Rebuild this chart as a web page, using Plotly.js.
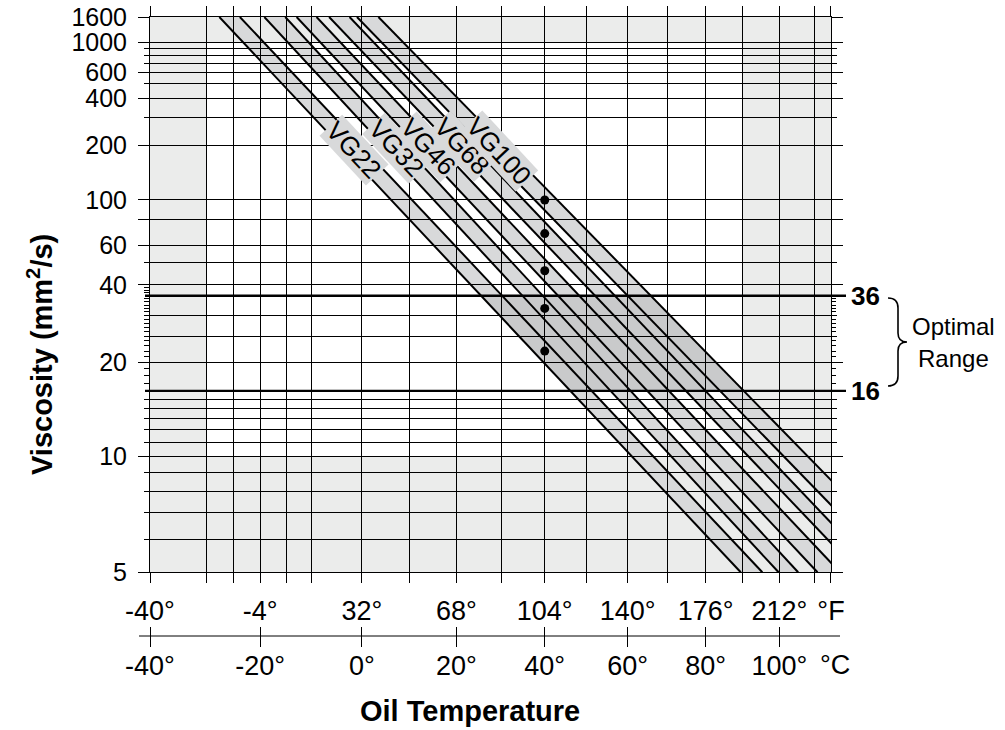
<!DOCTYPE html>
<html><head><meta charset="utf-8">
<script src="https://cdn.plot.ly/plotly-3.0.1.min.js"></script>
<style>html,body{margin:0;padding:0;background:#fff}#chart{width:1005px;height:730px}</style>
</head><body><div id="chart"></div>
<script>
// ---------------- data ----------------
const gradeNames = ['VG22', 'VG32', 'VG46', 'VG68', 'VG100'];
const gradeVisc40 = [22, 32, 46, 68, 100];          // dots at 40 °C
const dotTempC = [40, 40, 40, 40, 40];
// each grade band is bounded by two straight lines, given by the temperature (°C)
// where the line meets 1600 mm²/s (top) and 5 mm²/s (bottom)
const lowLineTopC    = [-27.6, -19.2, -13.0, -6.6, -1.0];
const lowLineBottomC = [89.4, 99.8, 110.8, 122.9, 134.1];
const highLineTopC    = [-23.8, -15.2, -9.1, -2.5, 3.4];
const highLineBottomC = [95.3, 105.3, 117.3, 128.6, 141.7];
const labelVisc = [190, 193, 197, 200, 185];
const viscTop = 1600, viscBottom = 5;
const optimalRange = [16, 36];
const tempMinC = -40, tempMaxC = 114.7;

const xGridC = [-40, -30, -25, -20, -15, -10, 0, 10, 20, 30, 40, 50, 60, 70, 80, 90, 100, 110, 114.69];
const fTickC = [-40, -20, 0, 20, 40, 60, 80, 100];
const fLabels = ['-40°', '-4°', '32°', '68°', '104°', '140°', '176°', '212°'];
const cTickC = [-40, -20, 0, 20, 40, 60, 80, 100];
const cLabels = ['-40°', '-20°', '0°', '20°', '40°', '60°', '80°', '100°'];
const yLabeled = [5, 10, 20, 40, 60, 100, 200, 400, 600, 1000, 1600];
const yLong = [80];
const yMinorGrid = [6, 7, 8, 9, 11, 12, 13, 14, 15, 25, 30, 50, 300, 500, 700, 800, 900];
const yFineLeft = [17, 18, 19, 21, 22, 23, 24, 26, 27, 28, 29, 31, 32, 33, 34, 35, 37, 38, 39];
const yFineRight = [17, 18, 19, 21, 22, 23, 24, 26, 27, 28, 29, 31, 32, 33, 34, 35];
const shadeTempC = [[-40, -30], [90, 114.7]];
const shadeVisc = [[5, 10], [1000, 1600]];

// ---------------- scales ----------------
const C = 0.9;
const gv = v => Math.log10(Math.log10(v + C));     // Walther-type viscosity scale
const uT = t => Math.log10(t + 273.15);            // log absolute temperature
const xr = [uT(tempMinC), uT(tempMaxC)];
const yr = [gv(viscBottom), gv(viscTop)];

const FONT = 'Liberation Sans, Arial, Helvetica, sans-serif';
const LIGHT = '#ebeceb', BAND = '#d8d9da', OPT = '#c9cacb';

// paper helpers (plot area 150..831 x, paper 17..700 y)
const ML = 150, MR = 174, MT = 17, MB = 30, W = 1005 - ML - MR, H = 730 - MT - MB;
const px = p => (p - ML) / W;
const py = p => (730 - MB - p) / H;
const yDomLow = py(572.3);

function lineU(top, bottom, v) {
  const f = (gv(v) - gv(viscTop)) / (gv(viscBottom) - gv(viscTop));
  return uT(top) + f * (uT(bottom) - uT(top));
}

// ---------------- traces ----------------
const traces = [];
for (let i = 0; i < gradeNames.length; i++) {
  [[lowLineTopC[i], lowLineBottomC[i]], [highLineTopC[i], highLineBottomC[i]]].forEach(([a, b]) => {
    traces.push({
      x: [uT(a), uT(b)], y: [gv(viscTop), gv(viscBottom)],
      xaxis: 'x', yaxis: 'y3', mode: 'lines', line: {color: '#000', width: 2},
      hoverinfo: 'skip', showlegend: false
    });
  });
}
traces.push({
  x: dotTempC.map(uT), y: gradeVisc40.map(gv), xaxis: 'x2', yaxis: 'y2',
  mode: 'markers', marker: {color: '#000', size: 9}, hoverinfo: 'skip', showlegend: false
});

// ---------------- shapes ----------------
const shapes = [];
shadeTempC.forEach(([a, b]) => shapes.push({type: 'rect', layer: 'below', xref: 'x', yref: 'y',
  x0: uT(a), x1: uT(b), y0: yr[0], y1: yr[1], fillcolor: LIGHT, line: {width: 0}}));
shadeVisc.forEach(([a, b]) => shapes.push({type: 'rect', layer: 'below', xref: 'x', yref: 'y',
  x0: xr[0], x1: xr[1], y0: gv(a), y1: gv(b), fillcolor: LIGHT, line: {width: 0}}));
for (let i = 0; i < gradeNames.length; i++) {
  const p = `M${uT(lowLineTopC[i])},${gv(viscTop)} L${uT(highLineTopC[i])},${gv(viscTop)} ` +
            `L${uT(highLineBottomC[i])},${gv(viscBottom)} L${uT(lowLineBottomC[i])},${gv(viscBottom)} Z`;
  shapes.push({type: 'path', layer: 'below', xref: 'x', yref: 'y', path: p, fillcolor: BAND, line: {width: 0}});
}
{
  const last = gradeNames.length - 1;
  const [lo, hi] = optimalRange;
  const p = `M${lineU(lowLineTopC[0], lowLineBottomC[0], hi)},${gv(hi)} ` +
            `L${lineU(highLineTopC[last], highLineBottomC[last], hi)},${gv(hi)} ` +
            `L${lineU(highLineTopC[last], highLineBottomC[last], lo)},${gv(lo)} ` +
            `L${lineU(lowLineTopC[0], lowLineBottomC[0], lo)},${gv(lo)} Z`;
  shapes.push({type: 'path', layer: 'below', xref: 'x', yref: 'y', path: p, fillcolor: OPT, line: {width: 0}});
}
optimalRange.forEach(v => shapes.push({type: 'line', xref: 'paper', yref: 'y',
  x0: px(145), x1: px(846), y0: gv(v), y1: gv(v), line: {color: '#000', width: 2.4}}));
// °C axis line
shapes.push({type: 'line', xref: 'paper', yref: 'paper', x0: px(139), x1: px(840),
  y0: py(636), y1: py(636), line: {color: '#000', width: 1}});
// brace
{
  const pts = (x, y) => `${px(x)},${py(y)}`;
  const path = `M${pts(888, 298)} Q${pts(898, 298)} ${pts(898, 308)} L${pts(898, 333)} ` +
    `Q${pts(898, 342)} ${pts(907, 342)} Q${pts(898, 342)} ${pts(898, 351)} L${pts(898, 376)} ` +
    `Q${pts(898, 386)} ${pts(888, 386)}`;
  shapes.push({type: 'path', xref: 'paper', yref: 'paper', path: path, line: {color: '#000', width: 1.6}});
}

// ---------------- annotations ----------------
const ann = [];
for (let i = 0; i < gradeNames.length; i++) {
  const v = labelVisc[i];
  const u = (lineU(lowLineTopC[i], lowLineBottomC[i], v) + lineU(highLineTopC[i], highLineBottomC[i], v)) / 2;
  ann.push({x: u, y: gv(v), xref: 'x', yref: 'y', text: gradeNames[i], showarrow: false,
    xanchor: 'center', yanchor: 'middle',
    textangle: 47, font: {family: FONT, size: 26, color: '#000'}, bgcolor: BAND, borderpad: 0});
}
optimalRange.forEach(v => ann.push({x: px(849), y: gv(v), xref: 'paper', yref: 'y', xanchor: 'left',
  yanchor: 'middle', text: '<b>' + v + '</b>', showarrow: false, font: {family: FONT, size: 26, color: '#000'}}));
const para = (x, y, text, size, extra) => Object.assign({x: px(x), y: py(y), xref: 'paper', yref: 'paper',
  xanchor: 'center', yanchor: 'middle', text: text, showarrow: false,
  font: {family: FONT, size: size, color: '#000'}}, extra || {});
ann.push(para(953, 327, 'Optimal', 24));
ann.push(para(953, 358, 'Range', 24));
ann.push(para(835, 665, '°C', 27));
ann.push(para(470, 711, '<b>Oil Temperature</b>', 29));
ann.push(para(40, 355, '<b>Viscosity (mm<sup>2</sup>/s)</b>', 29, {textangle: -90}));

// ---------------- axes ----------------
const xTickText = xGridC.map(t => {
  const k = fTickC.indexOf(t);
  if (k >= 0) return fLabels[k];
  if (t > 114) return '°F';
  return '';
});
const yVals = yLabeled.concat(yLong);
const yText = yLabeled.map(String).concat(yLong.map(() => ''));

const layout = {
  width: 1005, height: 730,
  margin: {l: ML, r: MR, t: MT, b: MB},
  paper_bgcolor: '#fff', plot_bgcolor: '#fff',
  font: {family: FONT, size: 25, color: '#000'},
  showlegend: false,
  xaxis: {
    domain: [0, 1], range: xr, tickmode: 'array', tickvals: xGridC.map(uT), ticktext: xTickText,
    ticks: 'outside', ticklen: 10, tickwidth: 1, tickcolor: '#000', ticklabelstandoff: 4,
    showgrid: true, gridcolor: '#000', gridwidth: 1, zeroline: false,
    showline: true, linecolor: '#000', linewidth: 1, mirror: 'ticks',
    tickfont: {family: FONT, size: 27, color: '#000'}, fixedrange: true
  },
  xaxis2: {
    overlaying: 'x', anchor: 'free', position: py(626), side: 'bottom', range: xr,
    tickmode: 'array', tickvals: cTickC.map(uT), ticktext: cLabels,
    ticks: 'outside', ticklen: 20, tickwidth: 1, tickcolor: '#000', ticklabelstandoff: -4,
    showgrid: false, zeroline: false, showline: false,
    tickfont: {family: FONT, size: 27, color: '#000'}, fixedrange: true
  },
  yaxis: {
    domain: [yDomLow, 1], range: yr, tickmode: 'array', tickvals: yVals.map(gv), ticktext: yText,
    ticks: 'outside', ticklen: 11, tickwidth: 1, tickcolor: '#000', ticklabelstandoff: 6,
    showgrid: true, gridcolor: '#000', gridwidth: 1, zeroline: false,
    showline: true, linecolor: '#000', linewidth: 1, mirror: 'ticks',
    tickfont: {family: FONT, size: 25, color: '#000'}, fixedrange: true,
    minor: {tickmode: 'array', tickvals: yMinorGrid.map(gv), ticks: 'outside', ticklen: 5,
      tickcolor: '#000', showgrid: true, gridcolor: '#000', gridwidth: 1}
  },
  yaxis2: {
    overlaying: 'y', anchor: 'x', side: 'left', range: yr, tickmode: 'array',
    tickvals: yFineLeft.map(gv), ticks: 'outside', ticklen: 5, tickwidth: 1, tickcolor: '#000',
    showticklabels: false, showgrid: false, zeroline: false, showline: false, fixedrange: true
  },
  yaxis3: {
    overlaying: 'y', anchor: 'x', side: 'right', range: yr, tickmode: 'array',
    tickvals: yFineRight.map(gv), ticks: 'outside', ticklen: 4, tickwidth: 1, tickcolor: '#000',
    showticklabels: false, showgrid: false, zeroline: false, showline: false, fixedrange: true
  },
  shapes: shapes,
  annotations: ann
};

Plotly.newPlot('chart', traces, layout, {displayModeBar: false, staticPlot: true});
</script>
</body></html>
